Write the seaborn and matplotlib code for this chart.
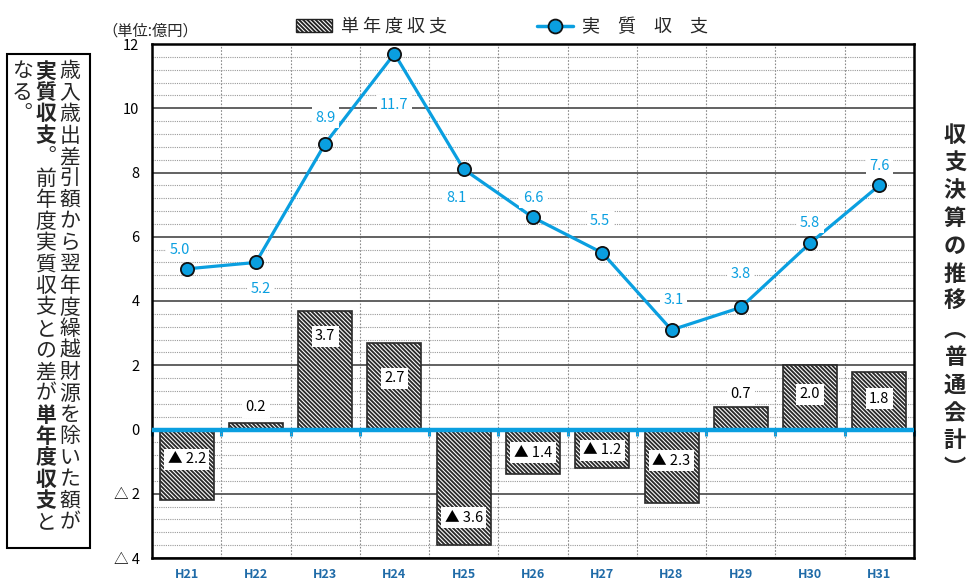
import matplotlib
matplotlib.use("Agg")
import matplotlib.pyplot as plt
import seaborn as sns
import numpy as np
import pandas as pd
from matplotlib.patches import Patch, Rectangle
from matplotlib.lines import Line2D
from matplotlib.ticker import MultipleLocator, FixedLocator, NullFormatter

# ---------------- data ----------------
years = ["H21", "H22", "H23", "H24", "H25", "H26", "H27", "H28", "H29", "H30", "H31"]
single_year = [-2.2, 0.2, 3.7, 2.7, -3.6, -1.4, -1.2, -2.3, 0.7, 2.0, 1.8]
real_balance = [5.0, 5.2, 8.9, 11.7, 8.1, 6.6, 5.5, 3.1, 3.8, 5.8, 7.6]
bar_texts = ["▲ 2.2", "0.2", "3.7", "2.7", "▲ 3.6", "▲ 1.4", "▲ 1.2", "▲ 2.3", "0.7", "2.0", "1.8"]
line_texts = ["5.0", "5.2", "8.9", "11.7", "8.1", "6.6", "5.5", "3.1", "3.8", "5.8", "7.6"]
y_tick_values = [-4, -2, 0, 2, 4, 6, 8, 10, 12]
y_tick_labels = ["△ 4", "△ 2", "0", "2", "4", "6", "8", "10", "12"]
legend_labels = ["単 年 度 収 支", "実　質　収　支"]
unit_label = "（単位:億円）"
title_chars = list("収支決算の推移") + ["︵"] + list("普通会計") + ["︶"]
note_cols = [
    [("歳入歳出差引額から翌年度繰越財源を除いた額が", False)],
    [("実質収支", True), ("︒前年度実質収支との差が", False), ("単年度収支", True), ("と", False)],
    [("なる︒", False)],
]

# label placement (layout only)
line_label_y = [5.60, 4.38, 9.70, 10.10, 7.20, 7.21, 6.49, 4.03, 4.84, 6.43, 8.20]
line_label_dx = [-0.1, 0.07, 0, 0, -0.11, 0, -0.03, 0.03, 0, 0, 0]
bar_label_y = [-0.92, 0.70, 2.91, 1.60, -2.75, -0.73, -0.64, -0.98, 1.10, 1.10, 0.95]

# ---------------- style ----------------
BLUE = "#0A9FE0"
DARKBLUE = "#1F6BA8"
HATCH = "\\" * 8

sns.set_theme(style="white")
plt.rcParams["font.family"] = ["Noto Sans CJK JP", "DejaVu Sans"]
plt.rcParams["hatch.linewidth"] = 1.35

W, H = 969, 585
fig = plt.figure(figsize=(W / 100, H / 100), dpi=100)
ax = fig.add_axes([152 / W, 1 - 558 / H, (914 - 152) / W, (558 - 44) / H])

df = pd.DataFrame({"year": years, "single": single_year, "real": real_balance})

sns.barplot(data=df, x="year", y="single", color="white", saturation=1,
            edgecolor="#2a2a2a", linewidth=1.2, hatch=HATCH, width=0.78,
            ax=ax, zorder=2)
sns.pointplot(data=df, x="year", y="real", color=BLUE, markers="o",
              markersize=9.5, linewidth=2.3, markeredgecolor="#111111",
              markeredgewidth=1.3, errorbar=None, ax=ax, zorder=6)

ax.axhline(0, color=BLUE, lw=3.2, zorder=5)

ax.set_xlim(-0.5, len(years) - 0.5)
ax.set_ylim(-4, 12)
ax.set_xlabel("")
ax.set_ylabel("")

ax.yaxis.set_major_locator(FixedLocator(y_tick_values))
ax.set_yticklabels(y_tick_labels)
ax.yaxis.set_minor_locator(MultipleLocator(0.4))
ax.xaxis.set_minor_locator(FixedLocator(np.arange(len(years) - 1) + 0.5))

ax.grid(False)
ax.grid(which="minor", axis="y", color="#9a9a9a", lw=0.8, ls=(0, (1, 1)), zorder=0)
ax.grid(which="minor", axis="x", color="#8a8a8a", lw=0.8, ls=(0, (1.5, 1.5)), zorder=0)
ax.grid(which="major", axis="y", color="#555555", lw=1.3, ls="-", zorder=1)
ax.set_axisbelow(True)

ax.tick_params(axis="both", which="both", length=0)
ax.tick_params(axis="y", labelsize=10.5, pad=9, colors="black")
ax.tick_params(axis="x", labelsize=9, pad=7, labelcolor=DARKBLUE)
for t in ax.get_xticklabels():
    t.set_fontweight("bold")

for s in ax.spines.values():
    s.set_visible(True)
    s.set_color("black")
    s.set_linewidth(1.8)

# small blue tick marks on the zero line at category boundaries
zero_frac = (0 - (-4)) / (12 - (-4))
sec = ax.secondary_xaxis(zero_frac)
sec.set_xticks(np.arange(len(years) + 1) - 0.5)
sec.xaxis.set_major_formatter(NullFormatter())
sec.tick_params(axis="x", direction="out", length=4, width=2.2, color=BLUE)
for s in sec.spines.values():
    s.set_visible(False)

# value labels
for i in range(len(years)):
    ax.text(i + line_label_dx[i], line_label_y[i], line_texts[i], color=BLUE,
            fontsize=10.5, ha="center", va="center", zorder=7,
            bbox=dict(facecolor="white", edgecolor="none", pad=2.5))
    ax.text(i, bar_label_y[i], bar_texts[i], color="black",
            fontsize=10.5, ha="center", va="center", zorder=7,
            bbox=dict(facecolor="white", edgecolor="none", pad=2.5))

# legend
handles = [
    Patch(facecolor="white", edgecolor="#222222", hatch=HATCH, linewidth=1.0),
    Line2D([], [], color=BLUE, lw=2.5, marker="o", markersize=10,
           markerfacecolor=BLUE, markeredgecolor="#111111", markeredgewidth=1.3),
]
fig.legend(handles, legend_labels, loc="center", bbox_to_anchor=(502 / W, 1 - 27 / H),
           ncol=2, frameon=False, fontsize=13, handlelength=2.0,
           handletextpad=0.5, columnspacing=5.0)

# unit label
fig.text(150 / W, 1 - 31 / H, unit_label, fontsize=11, ha="center", va="center")

# right vertical title
tx, ty0, tp = 955, 135, 27.8
for k, ch in enumerate(title_chars):
    fig.text(tx / W, 1 - (ty0 + k * tp) / H, ch, fontsize=16, fontweight="bold",
             ha="center", va="center")

# left note box
fig.patches.append(Rectangle((7 / W, 1 - 548 / H), 83 / W, 494 / H,
                             transform=fig.transFigure, fill=False,
                             edgecolor="black", lw=1.5))
col_x = [70, 46, 22]
cy0, cp, fs = 71, 21.5, 15
for c, segs in enumerate(note_cols):
    k = 0
    for text, bold in segs:
        for ch in text:
            fig.text(col_x[c] / W, 1 - (cy0 + k * cp) / H, ch, fontsize=fs,
                     fontweight="bold" if bold else "normal",
                     ha="center", va="center")
            k += 1

fig.savefig("out.png", dpi=100)
